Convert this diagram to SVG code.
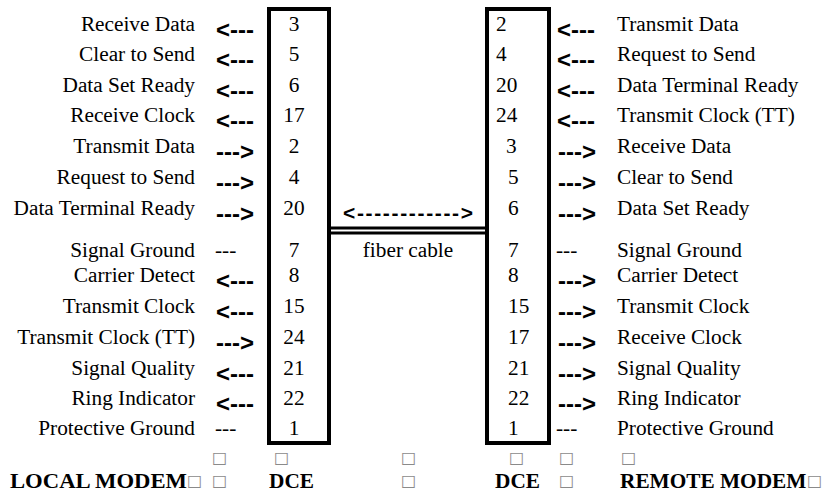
<svg xmlns="http://www.w3.org/2000/svg" width="827" height="495" viewBox="0 0 827 495">
<style>
.t{font-family:"Liberation Serif","Times New Roman",serif;font-size:21.3px;fill:#000}
.l{text-anchor:end}
.n{text-anchor:middle}
.a{font-family:"Liberation Sans",Arial,sans-serif;font-weight:bold;font-size:24px;fill:#000}
.b{font-family:"Liberation Serif","Times New Roman",serif;font-weight:bold;font-size:21.3px;fill:#000}
.q{font-family:"DejaVu Sans",sans-serif;font-size:16px;fill:#8a8a8a}
.box{fill:none;stroke:#000;stroke-width:4}
</style>
<rect width="827" height="495" fill="#fff"/>
<g id="local-modem">
<text class="t l" x="195" y="31">Receive Data</text>
<text class="t l" x="195" y="61">Clear to Send</text>
<text class="t l" x="195" y="92">Data Set Ready</text>
<text class="t l" x="195" y="122">Receive Clock</text>
<text class="t l" x="195" y="153">Transmit Data</text>
<text class="t l" x="195" y="184">Request to Send</text>
<text class="t l" x="195" y="215">Data Terminal Ready</text>
<text class="t l" x="195" y="257">Signal Ground</text>
<text class="t l" x="195" y="282">Carrier Detect</text>
<text class="t l" x="195" y="313">Transmit Clock</text>
<text class="t l" x="195" y="344">Transmit Clock (TT)</text>
<text class="t l" x="195" y="375">Signal Quality</text>
<text class="t l" x="195" y="405">Ring Indicator</text>
<text class="t l" x="195" y="435">Protective Ground</text>
</g>
<g id="dce-left">
<rect class="box" x="269" y="9" width="60" height="434"/>
<text class="t n" x="294" y="31">3</text>
<text class="t n" x="294" y="61">5</text>
<text class="t n" x="294" y="92">6</text>
<text class="t n" x="294" y="122">17</text>
<text class="t n" x="294" y="153">2</text>
<text class="t n" x="294" y="184">4</text>
<text class="t n" x="294" y="215">20</text>
<text class="t n" x="294" y="257">7</text>
<text class="t n" x="294" y="282">8</text>
<text class="t n" x="294" y="313">15</text>
<text class="t n" x="294" y="344">24</text>
<text class="t n" x="294" y="375">21</text>
<text class="t n" x="294" y="405">22</text>
<text class="t n" x="294" y="435">1</text>
</g>
<g id="dce-right">
<rect class="box" x="487" y="9" width="62" height="434"/>
<text class="t" x="496" y="31">2</text>
<text class="t" x="496" y="61">4</text>
<text class="t" x="496" y="92">20</text>
<text class="t" x="496" y="122">24</text>
<text class="t" x="506" y="153">3</text>
<text class="t" x="508" y="184">5</text>
<text class="t" x="508" y="215">6</text>
<text class="t" x="508" y="257">7</text>
<text class="t" x="508" y="282">8</text>
<text class="t" x="508" y="313">15</text>
<text class="t" x="508" y="344">17</text>
<text class="t" x="508" y="375">21</text>
<text class="t" x="508" y="405">22</text>
<text class="t" x="508" y="435">1</text>
</g>
<g id="remote-modem">
<text class="t" x="617" y="31">Transmit Data</text>
<text class="t" x="617" y="61">Request to Send</text>
<text class="t" x="617" y="92">Data Terminal Ready</text>
<text class="t" x="617" y="122">Transmit Clock (TT)</text>
<text class="t" x="617" y="153">Receive Data</text>
<text class="t" x="617" y="184">Clear to Send</text>
<text class="t" x="617" y="215">Data Set Ready</text>
<text class="t" x="617" y="257">Signal Ground</text>
<text class="t" x="617" y="282">Carrier Detect</text>
<text class="t" x="617" y="313">Transmit Clock</text>
<text class="t" x="617" y="344">Receive Clock</text>
<text class="t" x="617" y="375">Signal Quality</text>
<text class="t" x="617" y="405">Ring Indicator</text>
<text class="t" x="617" y="435">Protective Ground</text>
</g>
<g id="fiber-cable">
<text class="t n" x="408" y="257">fiber cable</text>
</g>
<g id="connectors">
<text class="a" x="216" y="37.5">&lt;---</text>
<text class="a" x="216" y="67.5">&lt;---</text>
<text class="a" x="216" y="98.5">&lt;---</text>
<text class="a" x="216" y="128.5">&lt;---</text>
<text class="a" x="216" y="159.5">---&gt;</text>
<text class="a" x="216" y="190.5">---&gt;</text>
<text class="a" x="216" y="221.5">---&gt;</text>
<text class="t" x="215" y="257">---</text>
<text class="a" x="216" y="288.5">&lt;---</text>
<text class="a" x="216" y="319.5">&lt;---</text>
<text class="a" x="216" y="350.5">---&gt;</text>
<text class="a" x="216" y="381.5">&lt;---</text>
<text class="a" x="216" y="411.5">&lt;---</text>
<text class="t" x="215" y="435">---</text>
<text class="a" x="557" y="37.5">&lt;---</text>
<text class="a" x="557" y="67.5">&lt;---</text>
<text class="a" x="557" y="98.5">&lt;---</text>
<text class="a" x="557" y="128.5">&lt;---</text>
<text class="a" x="558" y="159.5">---&gt;</text>
<text class="a" x="558" y="190.5">---&gt;</text>
<text class="a" x="558" y="221.5">---&gt;</text>
<text class="t" x="556" y="257">---</text>
<text class="a" x="558" y="288.5">---&gt;</text>
<text class="a" x="558" y="319.5">---&gt;</text>
<text class="a" x="558" y="350.5">---&gt;</text>
<text class="a" x="558" y="381.5">---&gt;</text>
<text class="a" x="558" y="411.5">---&gt;</text>
<text class="t" x="556" y="435">---</text>
<text class="a" style="font-size:21px" x="343" y="220" textLength="130" lengthAdjust="spacing">&lt;------------&gt;</text>
<rect x="331" y="226.5" width="154" height="3" fill="#000"/>
<rect x="331" y="231.5" width="154" height="3" fill="#000"/>
</g>
<g id="footer">
<text class="q" x="212" y="463">□</text>
<text class="q" x="274" y="463">□</text>
<text class="q" x="401" y="463">□</text>
<text class="q" x="509" y="463">□</text>
<text class="q" x="559" y="463">□</text>
<text class="q" x="621" y="463">□</text>
<text class="b" x="10" y="488" textLength="177" lengthAdjust="spacingAndGlyphs">LOCAL MODEM</text>
<text class="q" x="187" y="486">□</text>
<text class="q" x="212" y="486">□</text>
<text class="b" x="269" y="488">DCE</text>
<text class="q" x="401" y="486">□</text>
<text class="b" x="495" y="488">DCE</text>
<text class="q" x="559" y="486">□</text>
<text class="b" x="620" y="488">REMOTE MODEM</text>
<text class="q" x="807" y="486">□</text>
</g>
</svg>
